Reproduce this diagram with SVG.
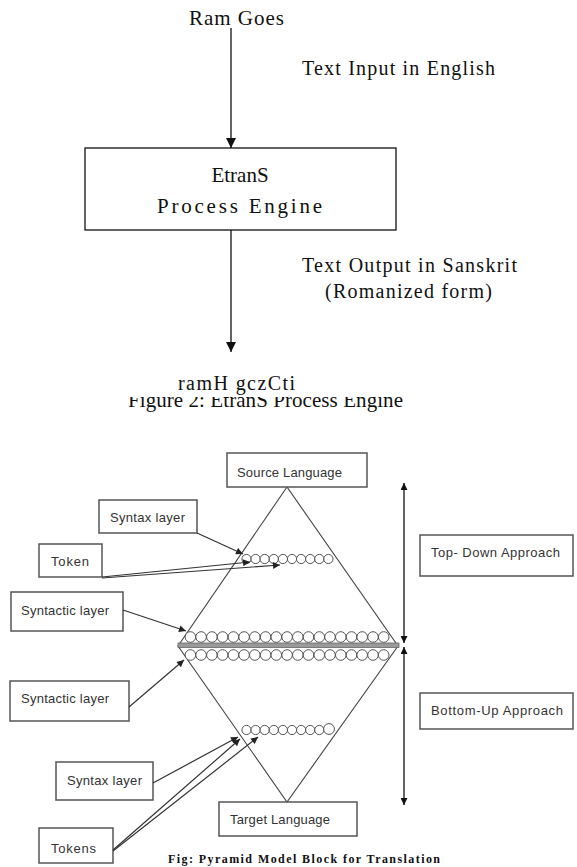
<svg xmlns="http://www.w3.org/2000/svg" width="577" height="867" viewBox="0 0 577 867">
<style>
.serif{font-family:"Liberation Serif","Times New Roman",serif;fill:#111}
.sans{font-family:"Liberation Sans",Arial,sans-serif;fill:#333;font-size:13px}
.box{fill:#fff;stroke:#111;stroke-width:1.3}
.box2{fill:#fff;stroke:#555;stroke-width:1.5}
.ln{stroke:#111;stroke-width:1.3;fill:none}
.ln2{stroke:#333;stroke-width:1.2;fill:none}
.c{fill:#fff;stroke:#555;stroke-width:1}
</style>
<defs>
<marker id="ah" viewBox="0 0 10 10" refX="10" refY="5" markerWidth="10" markerHeight="14" markerUnits="userSpaceOnUse" orient="auto">
<path d="M0,0 L10,5 L0,10 Z" fill="#111"/>
</marker>
<marker id="as" viewBox="0 0 10 10" refX="10" refY="5" markerWidth="9" markerHeight="7" markerUnits="userSpaceOnUse" orient="auto">
<path d="M0,0 L10,5 L0,10 Z" fill="#222"/>
</marker>
<marker id="av" viewBox="0 0 10 10" refX="10" refY="5" markerWidth="8" markerHeight="7" markerUnits="userSpaceOnUse" orient="auto-start-reverse">
<path d="M0,0 L10,5 L0,10 Z" fill="#111"/>
</marker>
<clipPath id="capclip"><rect x="0" y="397" width="577" height="30"/></clipPath>
</defs>

<!-- Figure 2 -->
<g id="input-text"><text class="serif" x="189" y="25" font-size="21" textLength="95">Ram Goes</text></g>
<g id="input-label"><text class="serif" x="302" y="75" font-size="20" textLength="193">Text Input in English</text></g>
<g id="engine">
<rect class="box" x="85" y="148" width="311" height="82"/>
<text class="serif" x="240" y="182" font-size="21" text-anchor="middle">EtranS</text>
<text class="serif" x="157" y="213" font-size="21" textLength="165">Process Engine</text>
</g>
<g id="output-label">
<text class="serif" x="302" y="272" font-size="20" textLength="215">Text Output in Sanskrit</text>
<text class="serif" x="325" y="298" font-size="20" textLength="167">(Romanized form)</text>
</g>
<g id="output-text"><text class="serif" x="178" y="390" font-size="20" textLength="117">ramH gczCti</text></g>
<g id="caption1" clip-path="url(#capclip)"><text class="serif" x="128" y="407" font-size="21" textLength="275">Figure 2: EtranS Process Engine</text></g>
<g id="connectors-top">
<line class="ln" x1="231" y1="28" x2="231" y2="148" marker-end="url(#ah)"/>
<line class="ln" x1="231" y1="230" x2="231" y2="352" marker-end="url(#ah)"/>
</g>

<!-- Pyramid model -->
<g id="pyramid">
<polygon points="287,487 178,646 287,802 398,646" fill="none" stroke="#444" stroke-width="1.1"/>
<g id="row-top">
<circle class="c" cx="246.5" cy="559" r="4.6"/><circle class="c" cx="255.6" cy="559" r="4.6"/><circle class="c" cx="264.7" cy="559" r="4.6"/><circle class="c" cx="273.8" cy="559" r="4.6"/><circle class="c" cx="282.9" cy="559" r="4.6"/><circle class="c" cx="292" cy="559" r="4.6"/><circle class="c" cx="301.1" cy="559" r="4.6"/><circle class="c" cx="310.2" cy="559" r="4.6"/><circle class="c" cx="319.3" cy="559" r="4.6"/><circle class="c" cx="328.4" cy="559" r="4.6"/>
</g>
<g id="row-mid-upper">
<circle class="c" cx="190.4" cy="637" r="5.3"/><circle class="c" cx="201.1" cy="637" r="5.3"/><circle class="c" cx="211.9" cy="637" r="5.3"/><circle class="c" cx="222.6" cy="637" r="5.3"/><circle class="c" cx="233.4" cy="637" r="5.3"/><circle class="c" cx="244.1" cy="637" r="5.3"/><circle class="c" cx="254.8" cy="637" r="5.3"/><circle class="c" cx="265.6" cy="637" r="5.3"/><circle class="c" cx="276.3" cy="637" r="5.3"/><circle class="c" cx="287.1" cy="637" r="5.3"/><circle class="c" cx="297.8" cy="637" r="5.3"/><circle class="c" cx="308.5" cy="637" r="5.3"/><circle class="c" cx="319.3" cy="637" r="5.3"/><circle class="c" cx="330" cy="637" r="5.3"/><circle class="c" cx="340.8" cy="637" r="5.3"/><circle class="c" cx="351.5" cy="637" r="5.3"/><circle class="c" cx="362.2" cy="637" r="5.3"/><circle class="c" cx="373" cy="637" r="5.3"/><circle class="c" cx="383.7" cy="637" r="5.3"/>
</g>
<rect x="178" y="643" width="221" height="4.5" fill="#9a9a9a" stroke="#666" stroke-width="0.8"/>
<g id="row-mid-lower">
<circle class="c" cx="190.4" cy="655" r="5.3"/><circle class="c" cx="201.1" cy="655" r="5.3"/><circle class="c" cx="211.9" cy="655" r="5.3"/><circle class="c" cx="222.6" cy="655" r="5.3"/><circle class="c" cx="233.4" cy="655" r="5.3"/><circle class="c" cx="244.1" cy="655" r="5.3"/><circle class="c" cx="254.8" cy="655" r="5.3"/><circle class="c" cx="265.6" cy="655" r="5.3"/><circle class="c" cx="276.3" cy="655" r="5.3"/><circle class="c" cx="287.1" cy="655" r="5.3"/><circle class="c" cx="297.8" cy="655" r="5.3"/><circle class="c" cx="308.5" cy="655" r="5.3"/><circle class="c" cx="319.3" cy="655" r="5.3"/><circle class="c" cx="330" cy="655" r="5.3"/><circle class="c" cx="340.8" cy="655" r="5.3"/><circle class="c" cx="351.5" cy="655" r="5.3"/><circle class="c" cx="362.2" cy="655" r="5.3"/><circle class="c" cx="373" cy="655" r="5.3"/><circle class="c" cx="383.7" cy="655" r="5.3"/>
</g>
<g id="row-bottom">
<circle class="c" cx="246.5" cy="730" r="4.6"/><circle class="c" cx="255.6" cy="730" r="4.6"/><circle class="c" cx="264.7" cy="730" r="4.6"/><circle class="c" cx="273.8" cy="730" r="4.6"/><circle class="c" cx="282.9" cy="730" r="4.6"/><circle class="c" cx="292" cy="730" r="4.6"/><circle class="c" cx="301.1" cy="730" r="4.6"/><circle class="c" cx="310.2" cy="730" r="4.6"/><circle class="c" cx="319.3" cy="730" r="4.6"/><circle class="c" cx="329" cy="729" r="5.4"/>
</g>
</g>

<g id="source-language"><rect class="box2" x="227" y="453" width="140" height="34"/><text class="sans" x="237" y="477" textLength="105">Source Language</text></g>
<g id="target-language"><rect class="box2" x="219" y="802" width="138" height="34"/><text class="sans" x="230" y="824" textLength="100">Target Language</text></g>
<g id="syntax-layer-top"><rect class="box2" x="99" y="500" width="98" height="33"/><text class="sans" x="110" y="522" textLength="75">Syntax layer</text></g>
<g id="token"><rect class="box2" x="39" y="544" width="63" height="33"/><text class="sans" x="51" y="566" textLength="38">Token</text></g>
<g id="syntactic-layer-top"><rect class="box2" x="11" y="592" width="112" height="39"/><text class="sans" x="21" y="615" textLength="88">Syntactic layer</text></g>
<g id="syntactic-layer-bottom"><rect class="box2" x="10" y="681" width="119" height="40"/><text class="sans" x="21" y="703" textLength="88">Syntactic layer</text></g>
<g id="syntax-layer-bottom"><rect class="box2" x="56" y="762" width="97" height="38"/><text class="sans" x="67" y="785" textLength="75">Syntax layer</text></g>
<g id="tokens"><rect class="box2" x="39" y="828" width="74" height="35"/><text class="sans" x="51" y="853" textLength="45">Tokens</text></g>
<g id="top-down"><rect class="box2" x="420" y="535" width="153" height="41"/><text class="sans" x="431" y="557" textLength="129">Top- Down Approach</text></g>
<g id="bottom-up"><rect class="box2" x="420" y="693" width="153" height="36"/><text class="sans" x="431" y="715" textLength="132">Bottom-Up Approach</text></g>

<g id="caption2"><text class="serif" x="168" y="863" font-size="12" font-weight="bold" fill="#444" textLength="272">Fig: Pyramid Model Block for Translation</text></g>

<g id="connectors">
<line class="ln2" x1="197" y1="533" x2="243" y2="554" marker-end="url(#as)"/>
<line class="ln2" x1="102" y1="577" x2="250" y2="562" marker-end="url(#as)"/>
<line class="ln2" x1="102" y1="578" x2="280" y2="565" marker-end="url(#as)"/>
<line class="ln2" x1="123" y1="610" x2="186" y2="631" marker-end="url(#as)"/>
<line class="ln2" x1="129" y1="707" x2="184" y2="660" marker-end="url(#as)"/>
<line class="ln2" x1="153" y1="783" x2="238" y2="737" marker-end="url(#as)"/>
<line class="ln2" x1="113" y1="850" x2="240" y2="739" marker-end="url(#as)"/>
<line class="ln2" x1="113" y1="851" x2="258" y2="737" marker-end="url(#as)"/>
<line class="ln" x1="404" y1="483" x2="404" y2="643" marker-start="url(#av)" marker-end="url(#av)"/>
<line class="ln" x1="404" y1="647" x2="404" y2="805" marker-start="url(#av)" marker-end="url(#av)"/>
</g>
</svg>
